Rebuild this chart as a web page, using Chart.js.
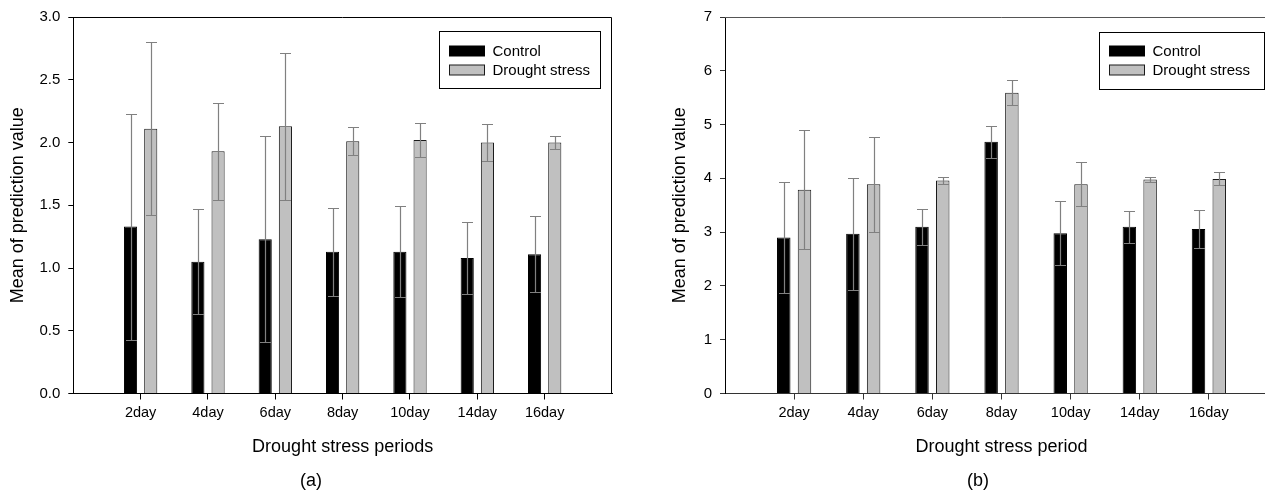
<!DOCTYPE html>
<html>
<head>
<meta charset="utf-8">
<script src="https://cdn.jsdelivr.net/npm/chart.js@4.4.1/dist/chart.umd.min.js"></script>
<style>
  html, body { margin: 0; padding: 0; background: #fff; overflow: hidden; }
  #wrap { position: relative; width: 1265px; height: 493px; overflow: hidden; }
  canvas { position: absolute; top: 0; }
  #cA { left: 0; }
  #cB { left: 640px; }
  .tag { position: absolute; top: 470px; font: 18px "Liberation Sans", Arial, sans-serif; color: #000; transform: translateX(-50%); }
</style>
</head>
<body>
<div id="wrap">
  <canvas id="cA" width="640" height="493"></canvas>
  <canvas id="cB" width="650" height="493"></canvas>
  <div class="tag" style="left:311px">(a)</div>
  <div class="tag" style="left:978px">(b)</div>
</div>
<script>
// Categories
const days = ['2day', '4day', '6day', '8day', '10day', '14day', '16day'];

// Panel (a): means and error (± SD)
const controlA = [1.33, 1.05, 1.23, 1.13, 1.13, 1.08, 1.11];
const controlErrA = [0.90, 0.42, 0.82, 0.35, 0.365, 0.29, 0.305];
const droughtA = [2.11, 1.93, 2.13, 2.01, 2.02, 2.00, 2.00];
const droughtErrA = [0.69, 0.385, 0.585, 0.11, 0.135, 0.145, 0.05];

// Panel (b)
const controlB = [2.90, 2.97, 3.10, 4.68, 2.98, 3.10, 3.06];
const controlErrB = [1.04, 1.04, 0.33, 0.30, 0.59, 0.30, 0.35];
const droughtB = [3.79, 3.89, 3.96, 5.59, 3.89, 3.98, 3.99];
const droughtErrB = [1.10, 0.88, 0.07, 0.23, 0.41, 0.05, 0.12];

Chart.defaults.font.family = '"Liberation Sans", Arial, sans-serif';
Chart.defaults.color = '#000';

// Error bars drawn from the y scale
const errorBars = {
    id: 'errorBars',
    afterDatasetsDraw(chart) {
        const ctx = chart.ctx;
        const yScale = chart.scales.y;
        ctx.save();
        ctx.strokeStyle = '#808080';
        ctx.lineWidth = 1.2;
        chart.data.datasets.forEach((ds, di) => {
            chart.getDatasetMeta(di).data.forEach((bar, i) => {
                const v = ds.data[i].y;
                const e = ds.errors[i];
                const top = Math.round(yScale.getPixelForValue(v + e)) + 0.5;
                const bot = Math.round(yScale.getPixelForValue(v - e)) + 0.5;
                const x = Math.round(bar.x) + 0.5;
                ctx.beginPath();
                ctx.moveTo(x, top); ctx.lineTo(x, bot);
                ctx.moveTo(x - 5.5, top); ctx.lineTo(x + 5.5, top);
                ctx.moveTo(x - 5.5, bot); ctx.lineTo(x + 5.5, bot);
                ctx.stroke();
            });
        });
        ctx.restore();
    }
};

// Top and right lines of the plot frame
const frame = {
    id: 'frame',
    afterDraw(chart, args, opts) {
        const { ctx, chartArea: a } = chart;
        const t = Math.round(a.top) + 0.5;
        const r = Math.round(a.right) - 0.5;
        ctx.save();
        ctx.strokeStyle = opts.color || '#000';
        ctx.lineWidth = 1;
        ctx.beginPath();
        ctx.moveTo(a.left, t);
        ctx.lineTo(r, t);
        ctx.lineTo(r, a.bottom);
        ctx.stroke();
        ctx.restore();
    }
};

// Boxed legend inside the plot
const boxLegend = {
    id: 'boxLegend',
    afterDraw(chart, args, o) {
        const { ctx, chartArea: a } = chart;
        const x0 = Math.round(a.right - o.right - o.width) + 0.5;
        const y0 = Math.round(a.top + o.top) + 0.5;
        ctx.save();
        ctx.fillStyle = '#fff';
        ctx.fillRect(x0, y0, o.width, o.height);
        ctx.strokeStyle = '#000';
        ctx.lineWidth = 1;
        ctx.strokeRect(x0, y0, o.width, o.height);
        ctx.font = '15px "Liberation Sans", Arial, sans-serif';
        ctx.textBaseline = 'middle';
        chart.data.datasets.forEach((ds, i) => {
            const cy = Math.round(y0 + o.rows[i]);
            ctx.fillStyle = ds.backgroundColor;
            ctx.fillRect(x0 + 10, cy - 5, 35, 10);
            ctx.strokeStyle = ds.borderColor;
            ctx.strokeRect(x0 + 10, cy - 5, 35, 10);
            ctx.fillStyle = '#000';
            ctx.fillText(ds.label, x0 + 53, cy + 0.5);
        });
        ctx.restore();
    }
};

function makeChart(id, cfg) {
    return new Chart(document.getElementById(id), {
        type: 'bar',
        data: {
            datasets: [
                {
                    label: 'Control',
                    data: days.map((d, i) => ({ x: i, y: cfg.control[i] })),
                    errors: cfg.controlErr,
                    backgroundColor: '#000000',
                    borderColor: '#000000',
                    borderWidth: 1,
                    categoryPercentage: 0.6,
                    barPercentage: 0.65
                },
                {
                    label: 'Drought stress',
                    data: days.map((d, i) => ({ x: i, y: cfg.drought[i] })),
                    errors: cfg.droughtErr,
                    backgroundColor: '#c0c0c0',
                    borderColor: '#1a1a1a',
                    borderWidth: 1,
                    categoryPercentage: 0.6,
                    barPercentage: 0.65
                }
            ]
        },
        options: {
            responsive: false,
            animation: false,
            layout: { padding: { top: 16, right: cfg.padRight, left: 0, bottom: 0 } },
            plugins: {
                legend: { display: false },
                tooltip: { enabled: false },
                frame: { color: cfg.frameColor },
                boxLegend: cfg.legendBox
            },
            scales: {
                x: {
                    type: 'linear',
                    min: -1,
                    max: 7,
                    offset: false,
                    grid: { display: true, offset: false, drawOnChartArea: false, drawTicks: true, tickLength: 6, color: cfg.axisColor },
                    border: { color: cfg.axisColor, width: 1 },
                    afterBuildTicks: s => { s.ticks = days.map((d, i) => ({ value: i })); },
                    afterFit: s => { s.height = 99.5; },
                    ticks: { callback: v => days[v], autoSkip: false, maxRotation: 0, padding: 5, font: { size: 14.5 }, color: '#000' },
                    title: { display: true, text: cfg.xTitle, font: { size: 18 }, padding: { top: 0, bottom: 35 } }
                },
                y: {
                    min: 0,
                    max: cfg.yMax,
                    grid: { drawOnChartArea: false, drawTicks: true, tickLength: 5, color: cfg.axisColor },
                    border: { color: '#000', width: 1 },
                    afterFit: s => { s.width = cfg.yWidth; },
                    ticks: { stepSize: cfg.yStep, callback: v => cfg.yFmt(v), padding: 8, font: { size: 15 }, color: '#000' },
                    title: { display: true, text: 'Mean of prediction value', font: { size: 18 }, padding: { top: cfg.yTitlePad, bottom: 0 } }
                }
            }
        },
        plugins: [errorBars, frame, boxLegend]
    });
}

makeChart('cA', {
    control: controlA, controlErr: controlErrA,
    drought: droughtA, droughtErr: droughtErrA,
    yMax: 3, yStep: 0.5, yFmt: v => v.toFixed(1),
    yWidth: 73.3, yTitlePad: 7, padRight: 28,
    xTitle: 'Drought stress periods',
    axisColor: '#000', frameColor: '#000',
    legendBox: { right: 12, top: 14, width: 161, height: 57, rows: [19, 38] }
});

makeChart('cB', {
    control: controlB, controlErr: controlErrB,
    drought: droughtB, droughtErr: droughtErrB,
    yMax: 7, yStep: 1, yFmt: v => String(v),
    yWidth: 85, yTitlePad: 29, padRight: 12,
    xTitle: 'Drought stress period',
    axisColor: '#333', frameColor: '#555',
    legendBox: { right: 14.5, top: 15, width: 165, height: 57, rows: [18.5, 37] }
});
</script>
</body>
</html>
